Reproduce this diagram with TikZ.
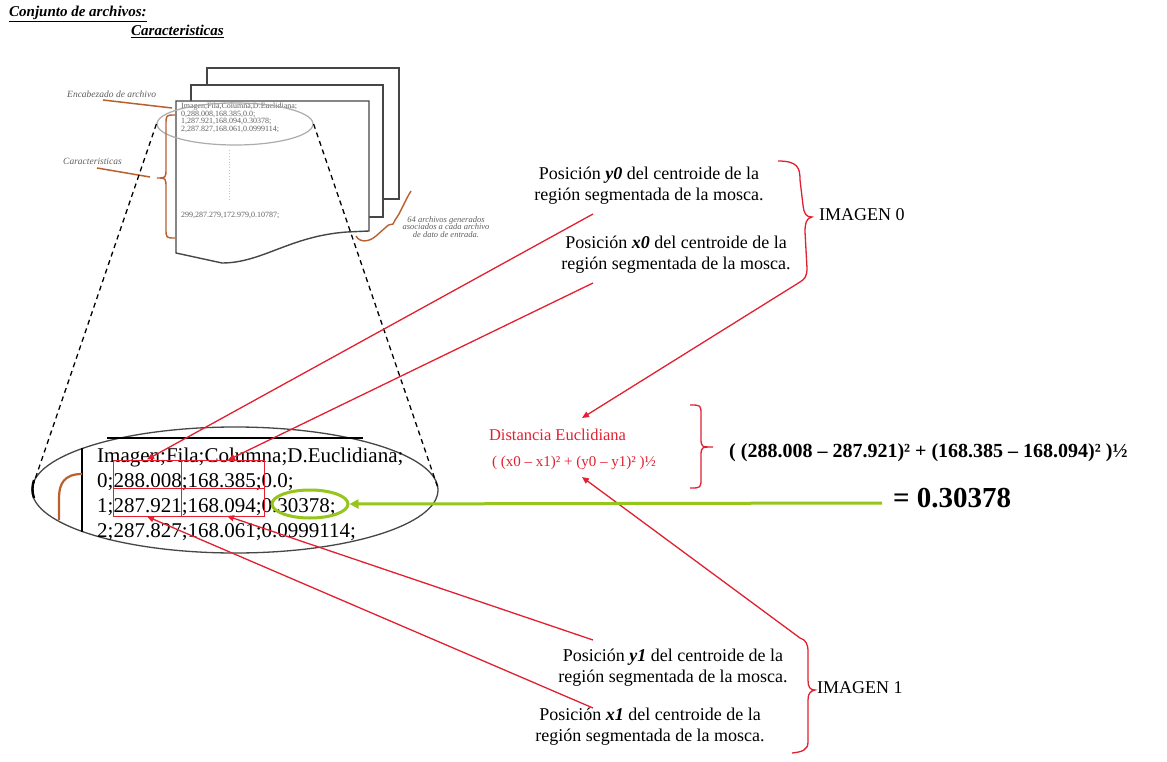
\documentclass[tikz,border=0pt]{standalone}
\usepackage{fontspec}
\setmainfont{Liberation Serif}
\usetikzlibrary{arrows.meta,shapes.geometric}
\definecolor{linkred}{RGB}{226,32,48}
\definecolor{limegreen}{RGB}{150,198,28}
\definecolor{noteline}{RGB}{186,96,46}
\definecolor{pageline}{RGB}{70,70,70}
\definecolor{smalltext}{RGB}{95,95,95}
\begin{document}
\begin{tikzpicture}[x=1pt,y=-1pt,
  redarrow/.style={linkred, line width=1.3pt, -{Triangle[length=7pt,width=6pt]}},
  redbrace/.style={linkred, line width=1.3pt},
  greenarrow/.style={limegreen, line width=3pt, -{Triangle[length=9pt,width=9pt]}},
  sheet/.style={draw=pageline, line width=1.4pt, fill=white},
  poslabel/.style={align=center, inner sep=0pt, font=\fontsize{18}{21}\selectfont},
  gridcell/.style={draw=linkred, line width=1pt, inner sep=0pt},
  annot/.style={font=\fontsize{9.5}{11}\selectfont\itshape, text=smalltext, inner sep=0pt},
  filetext/.style={font=\fontsize{8}{7.6}\selectfont, text=smalltext, inner sep=0pt},
  rowtext/.style={font=\fontsize{21}{24}\selectfont, inner sep=0pt, anchor=base west},
  headtext/.style={anchor=base west, inner sep=0pt, font=\fontsize{15}{17}\selectfont\bfseries\itshape},
  brownline/.style={noteline, line width=1.5pt},
  zoomline/.style={black, dashed, line width=1.3pt, dash pattern=on 5pt off 4pt}]

\fill[white] (0,0) rectangle (1167,762);
\useasboundingbox (0,0) rectangle (1167,762);

% headings
\node[headtext] (title) at (9,17) {\underline{Conjunto de archivos:}};
\node[headtext] (subtitle) at (131,36) {\underline{Caracteristicas}};

% stack of files
\draw[sheet] (207,68) rectangle (399,199);
\draw[sheet] (191,85) rectangle (383,217);
\draw[sheet] (176,101) -- (369,101) -- (369,231) -- (347,232)
  .. controls (290,236) and (262,263) .. (222,263) -- (176,253) -- cycle;

\node[filetext, anchor=north west, align=left] (filehead) at (181,103)
  {Imagen,Fila,Columna,D.Euclidiana;\\0,288.008,168.385,0.0;\\1,287.921,168.094,0.30378;\\2,287.827,168.061,0.0999114;};
\draw[gray!45, dotted, line width=0.9pt] (229,150) -- (229,202);
\node[filetext, anchor=west] (filelast) at (181,215) {299,287.279,172.979,0.10787;};

% small ellipse around the header lines
\node[draw=gray!65, line width=1.2pt, ellipse, minimum width=156pt, minimum height=42pt, inner sep=0pt]
  (zoomsrc) at (235,124) {};

% annotations of the file
\node[annot, anchor=base west] (encab) at (67,98) {Encabezado de archivo};
\coordinate (encabfoot) at (103,100);
\coordinate (encabtip) at (172,108);
\draw[brownline] (encabfoot) -- (encabtip);
\node[annot, anchor=base west] (caract) at (63,165) {Caracteristicas};
\coordinate (caractfoot) at (97,168);
\coordinate (caracttip) at (150,177);
\draw[brownline] (caractfoot) -- (caracttip);
\draw[brownline, line width=1.4pt] (175,115) .. controls (166,115) .. (166,125) -- (166,168)
  .. controls (166,178) .. (157,178) .. controls (166,178) .. (166,188) -- (166,228)
  .. controls (166,238) .. (175,238);

\draw[brownline, line width=1.4pt] (356,236) .. controls (360,243) and (369,242) .. (376,236) -- (385,228)
  .. controls (388,225) and (390,224) .. (393,224) .. controls (394,221) and (396,219) .. (399,214)
  -- (406,200) .. controls (408,196) and (409,194) .. (411,191);
\node[annot, align=center, font=\fontsize{8.5}{7.8}\selectfont\itshape] (count) at (446,227)
  {64 archivos generados\\asociados a cada archivo\\de dato de entrada.};

% enlarged view
\node[draw=pageline, line width=1.3pt, ellipse, minimum width=406pt, minimum height=126pt, inner sep=0pt]
  (zoomdst) at (235,490) {};
\draw[zoomline] (zoomsrc.west) -- (zoomdst.west);
\draw[zoomline] (zoomsrc.east) -- (zoomdst.east);
\draw[line width=2.6pt] (107,438) -- (363,438);
\draw[line width=2.6pt] (82,448) -- (82,532);
\draw[line width=2.4pt] (34,480) .. controls (32,486) and (32,492) .. (34,498);
\draw[noteline, line width=2.2pt] (82,474) .. controls (64,474) and (59,484) .. (59,498) -- (59,520);

\node[rowtext] (row0) at (97,462) {Imagen;Fila;Columna;D.Euclidiana;};
\node[rowtext] (row1) at (97,487) {0;288.008;168.385;0.0;};
\node[rowtext] (row2) at (97,512) {1;287.921;168.094;0.30378;};
\node[rowtext] (row3) at (97,537) {2;287.827;168.061;0.0999114;};

% marked values
\node[gridcell, minimum width=68pt, minimum height=28pt] (c11) at (147,474) {};
\node[gridcell, minimum width=83pt, minimum height=28pt] (c12) at (222.5,474) {};
\node[gridcell, minimum width=68pt, minimum height=28pt] (c21) at (147,502) {};
\node[gridcell, minimum width=83pt, minimum height=28pt] (c22) at (222.5,502) {};
\node[draw=limegreen, line width=3pt, ellipse, minimum width=76pt, minimum height=28pt, inner sep=0pt]
  (hit) at (310,504) {};

% position labels
\node[poslabel] (lbly0) at (649,186) {Posición \textbf{\textit{y0}} del centroide de la\\región segmentada de la mosca.};
\node[poslabel] (lblx0) at (676,255) {Posición \textbf{\textit{x0}} del centroide de la\\región segmentada de la mosca.};
\node[poslabel] (lbly1) at (673,668) {Posición \textbf{\textit{y1}} del centroide de la\\región segmentada de la mosca.};
\node[poslabel] (lblx1) at (650,727) {Posición \textbf{\textit{x1}} del centroide de la\\región segmentada de la mosca.};

\coordinate (y0tail) at (593,214);
\coordinate (x0tail) at (593,283);
\coordinate (y1tail) at (593,640);
\coordinate (x1tail) at (593,708);
\coordinate (tipx0) at (228,460);
\coordinate (tipy1) at (227,516);
\draw[redarrow] (y0tail) -- (c11.north);
\draw[redarrow] (x0tail) -- (tipx0);
\draw[redarrow] (y1tail) -- (tipy1);
\draw[redarrow] (x1tail) -- (c21.south);

% image groups
\node[anchor=west, inner sep=0pt, font=\fontsize{18}{21}\selectfont] (img0) at (819,215) {IMAGEN 0};
\node[anchor=west, inner sep=0pt, font=\fontsize{18}{21}\selectfont] (img1) at (817,688) {IMAGEN 1};
\draw[redbrace] (778,161) .. controls (798,161) and (800,168) .. (800,180) -- (803,205)
  .. controls (804,214) and (806,217) .. (812,217) .. controls (806,218) and (805,224) .. (805,232)
  -- (807,268) .. controls (807,276) and (805,279) .. (800,282);
\draw[redbrace] (800,638) .. controls (806,640) and (808,644) .. (808,652) -- (808,680)
  .. controls (808,687) and (810,690) .. (815,690) .. controls (810,691) and (808,694) .. (808,700)
  -- (808,742) .. controls (808,750) and (802,752) .. (792,753);
\coordinate (brace0end) at (800,282);
\coordinate (brace1end) at (800,638);

% distance
\node[inner sep=0pt, text=linkred, font=\fontsize{16.5}{19}\selectfont] (dist) at (557.5,435) {Distancia Euclidiana};
\node[anchor=west, inner sep=0pt, text=linkred, font=\fontsize{15}{17}\selectfont] (symb) at (492,463)
  {( (x0 – x1)² + (y0 – y1)² )½};
\coordinate (tipdist) at (582,418);
\coordinate (tipsymb) at (582,477);
\draw[redarrow] (brace0end) -- (tipdist);
\draw[redarrow] (brace1end) -- (tipsymb);
\draw[redbrace] (690,405) .. controls (701,405) .. (701,415) -- (701,437)
  .. controls (701,447) .. (713,447) .. controls (701,447) .. (701,457) -- (701,478)
  .. controls (701,488) .. (690,488);

\node[anchor=west, inner sep=0pt, font=\fontsize{20}{24}\selectfont\bfseries] (numeric) at (729,453)
  {( (288.008 – 287.921)² + (168.385 – 168.094)² )½};
\node[anchor=west, inner sep=0pt, font=\fontsize{29}{32}\selectfont\bfseries] (result) at (893,498) {= 0.30378};
\coordinate (greentail) at (882,503);
\draw[greenarrow] (greentail) -- (hit.east);
\end{tikzpicture}
\end{document}
